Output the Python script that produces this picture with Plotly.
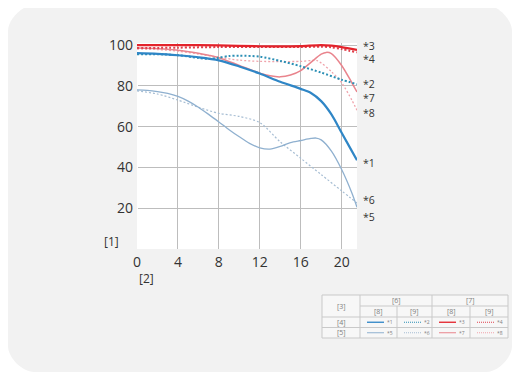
import plotly.graph_objects as go

# ---------------- data ----------------
x1 = [0, 2, 4, 6, 8, 10, 12, 14, 16, 17, 18, 19, 20, 21, 21.5]
s1 = [96, 95.7, 95, 94, 92.5, 89.5, 86, 82, 78.5, 76.5, 72.5, 66, 57, 48, 43.5]

x2 = [0, 2, 4, 6, 7, 8, 9, 10, 12, 14, 16, 18, 20, 21.5]
s2 = [95.5, 95.5, 95, 93.7, 93.2, 93.8, 94.6, 94.8, 94.3, 92.2, 89.6, 86.5, 83, 80.8]

x3 = [0, 4, 8, 12, 14, 16, 18, 19, 20, 21.5]
s3 = [100, 100, 99.8, 99.4, 99.3, 99.5, 100, 99.7, 99, 97.6]

x4 = [0, 4, 8, 12, 16, 18, 19, 20, 21.5]
s4 = [98.5, 98.7, 99, 99, 99, 99.2, 98.9, 98, 96.4]

x5 = [0, 1, 2, 3, 4, 5, 6, 7, 8, 9, 10, 11, 12, 13, 14, 15, 16, 17, 17.5, 18, 19, 20, 21, 21.5]
s5 = [78, 77.8, 77.2, 76.3, 74.8, 72.5, 69.5, 66, 62.3, 58.5, 55, 51.8, 49.6, 49, 50.3, 52.2, 53.2, 54.2, 54.4, 53.5, 48, 39, 27.5, 20.5]

x6 = [0, 2, 4, 6, 8, 10, 12, 14, 16, 18, 20, 21.5]
s6 = [77.5, 76, 73, 69.5, 66.5, 65, 62, 52.5, 44.5, 36.5, 28.5, 22.5]

x7 = [0, 2, 4, 6, 7, 8, 10, 12, 13, 14, 15, 16, 17, 18, 18.5, 19, 20, 21, 21.5]
s7 = [98.5, 98.2, 97.5, 96, 95, 93.8, 90, 86.2, 84.9, 84.4, 85.3, 87.5, 91.5, 95.5, 96.4, 95.8, 90, 81.5, 77]

x8 = [0, 2, 4, 6, 8, 10, 12, 14, 16, 17, 17.6, 18, 19, 20, 21, 21.5]
s8 = [98, 97.8, 97, 95.6, 94, 92.6, 92, 91.9, 92, 92.4, 92.4, 91.2, 87, 81.5, 73, 68]

x_ticks = [0, 4, 8, 12, 16, 20]
y_ticks = [20, 40, 60, 80, 100]
series_names = ["*1", "*2", "*3", "*4", "*5", "*6", "*7", "*8"]
axis_y_label = "[1]"
axis_x_label = "[2]"
table_corner = "[3]"
row_labels = ["[4]", "[5]"]
group_labels = ["[6]", "[7]"]
sub_labels = ["[8]", "[9]"]

# ---------------- layout geometry (screen pixels) ----------------
OFF = 8  # page body margin
SW, SH = 520, 378
W, H = SW - OFF, SH - OFF
PL, PR, PT, PB = 137, 357, 43, 249  # plot area in screen px
ML, MR, MT, MB = PL - OFF, SW - PR, PT - OFF, SH - PB
PW, PH = PR - PL, PB - PT


def px(v):
    return (v - PL) / PW


def py(v):
    return (PB - v) / PH


styles = {
    "*1": dict(color="#2f86c6", width=2.2, dash="solid"),
    "*2": dict(color="#2b8fb5", width=2.0, dash="2px,2px"),
    "*3": dict(color="#e3232b", width=2.2, dash="solid"),
    "*4": dict(color="#e0404d", width=2.0, dash="2px,2px"),
    "*5": dict(color="#8fb0cf", width=1.3, dash="solid"),
    "*6": dict(color="#a6bdd3", width=1.2, dash="2px,2px"),
    "*7": dict(color="#e9848d", width=1.5, dash="solid"),
    "*8": dict(color="#f0a3ab", width=1.3, dash="2px,2px"),
}

data = {
    "*1": (x1, s1), "*2": (x2, s2), "*3": (x3, s3), "*4": (x4, s4),
    "*5": (x5, s5), "*6": (x6, s6), "*7": (x7, s7), "*8": (x8, s8),
}

fig = go.Figure()
for name in ["*6", "*5", "*8", "*7", "*2", "*4", "*1", "*3"]:
    xs, ys = data[name]
    st = styles[name]
    fig.add_trace(go.Scatter(
        x=xs, y=ys, mode="lines", name=name, showlegend=False,
        line=dict(color=st["color"], width=st["width"], dash=st["dash"],
                  shape="spline", smoothing=0.8),
        hoverinfo="skip",
    ))

shapes = []
# rounded card
L, R, T, B, rad = 8, 512, 5, 372, 26
k = 0.45 * rad


def P(a, b):
    return f"{px(a):.5f},{py(b):.5f}"


path = (f"M {P(L + rad, T)} L {P(R - rad, T)} C {P(R - rad + k, T)} {P(R, T + rad - k)} {P(R, T + rad)} "
        f"L {P(R, B - rad)} C {P(R, B - rad + k)} {P(R - rad + k, B)} {P(R - rad, B)} "
        f"L {P(L + rad, B)} C {P(L + rad - k, B)} {P(L, B - rad + k)} {P(L, B - rad)} "
        f"L {P(L, T + rad)} C {P(L, T + rad - k)} {P(L + rad - k, T)} {P(L + rad, T)} Z")
shapes.append(dict(type="path", path=path, xref="paper", yref="paper",
                   fillcolor="#f2f2f2", line=dict(width=0), layer="below"))
shapes.append(dict(type="rect", xref="paper", yref="paper", x0=0, x1=1, y0=0, y1=1,
                   fillcolor="white", line=dict(width=0), layer="below"))

annotations = []
end_label_py = {"*3": 45.5, "*4": 59.5, "*2": 84, "*7": 98, "*8": 113, "*1": 163, "*6": 200, "*5": 217}
for name in series_names:
    annotations.append(dict(x=px(361), y=py(end_label_py[name]), xref="paper", yref="paper",
                            text=name, showarrow=False, xanchor="left", yanchor="middle",
                            font=dict(size=10.5, color="#333333", family="Open Sans")))
annotations.append(dict(x=px(111), y=py(241), xref="paper", yref="paper", text=axis_y_label,
                        showarrow=False, xanchor="center", yanchor="middle",
                        font=dict(size=12, color="#333333", family="Open Sans")))
annotations.append(dict(x=px(146), y=py(278), xref="paper", yref="paper", text=axis_x_label,
                        showarrow=False, xanchor="center", yanchor="middle",
                        font=dict(size=12, color="#333333", family="Open Sans")))

# legend table
cols = [322, 360, 397, 432, 470, 508]
rows = [295, 306, 317, 327.5, 338]
gc = "#c9c9c9"


def hline(x0, x1, yv):
    shapes.append(dict(type="line", xref="paper", yref="paper", x0=px(x0), x1=px(x1),
                       y0=py(yv), y1=py(yv), line=dict(color=gc, width=1)))


def vline(xv, y0, y1):
    shapes.append(dict(type="line", xref="paper", yref="paper", x0=px(xv), x1=px(xv),
                       y0=py(y0), y1=py(y1), line=dict(color=gc, width=1)))


shapes.append(dict(type="rect", xref="paper", yref="paper", x0=px(cols[0]), x1=px(cols[-1]),
                   y0=py(rows[0]), y1=py(rows[-1]), fillcolor="#f7f7f7", line=dict(color=gc, width=1)))
hline(cols[1], cols[-1], rows[1])
hline(cols[0], cols[-1], rows[2])
hline(cols[0], cols[-1], rows[3])
vline(cols[1], rows[0], rows[-1])
vline(cols[3], rows[0], rows[-1])
vline(cols[2], rows[1], rows[-1])
vline(cols[4], rows[1], rows[-1])


def tlabel(xc, yc, text, size=7, anchor="center"):
    annotations.append(dict(x=px(xc), y=py(yc), xref="paper", yref="paper", text=text,
                            showarrow=False, xanchor=anchor, yanchor="middle",
                            font=dict(size=size, color="#808080", family="Open Sans")))


tlabel((cols[0] + cols[1]) / 2, (rows[0] + rows[2]) / 2, table_corner)
tlabel((cols[1] + cols[3]) / 2, (rows[0] + rows[1]) / 2, group_labels[0])
tlabel((cols[3] + cols[5]) / 2, (rows[0] + rows[1]) / 2, group_labels[1])
for i in range(4):
    tlabel((cols[i + 1] + cols[i + 2]) / 2, (rows[1] + rows[2]) / 2, sub_labels[i % 2])
for r in range(2):
    tlabel((cols[0] + cols[1]) / 2, (rows[r + 2] + rows[r + 3]) / 2, row_labels[r])
cell_series = [["*1", "*2", "*3", "*4"], ["*5", "*6", "*7", "*8"]]
for r in range(2):
    yc = (rows[r + 2] + rows[r + 3]) / 2
    for c in range(4):
        name = cell_series[r][c]
        st = styles[name]
        x0 = cols[c + 1] + 7
        shapes.append(dict(type="line", xref="paper", yref="paper", x0=px(x0), x1=px(x0 + 17),
                           y0=py(yc), y1=py(yc),
                           line=dict(color=st["color"], width=max(1, st["width"] * 0.6),
                                     dash="solid" if st["dash"] == "solid" else "1px,1px")))
        tlabel(x0 + 18, yc, name, size=5, anchor="left")

fig.update_layout(
    width=W, height=H,
    margin=dict(l=ML, r=MR, t=MT, b=MB, pad=0),
    paper_bgcolor="white", plot_bgcolor="white",
    shapes=shapes, annotations=annotations,
    font=dict(family="Open Sans", color="#333333", size=14),
    xaxis=dict(range=[0, 21.5], tickvals=x_ticks, ticktext=[str(v) for v in x_ticks],
               showgrid=True, gridcolor="#bdbdbd", gridwidth=1.3,
               zeroline=True, zerolinecolor="white", zerolinewidth=1,
               showline=False, ticks="", tickfont=dict(size=14, color="#333333"),
               ticklabelstandoff=3),
    yaxis=dict(range=[0, 101], tickvals=y_ticks, ticktext=[str(v) for v in y_ticks],
               showgrid=True, gridcolor="#bdbdbd", gridwidth=1.3,
               zeroline=False, showline=False, ticks="", tickfont=dict(size=14, color="#333333"),
               ticklabelstandoff=3),
)

fig.write_html("out.html")
